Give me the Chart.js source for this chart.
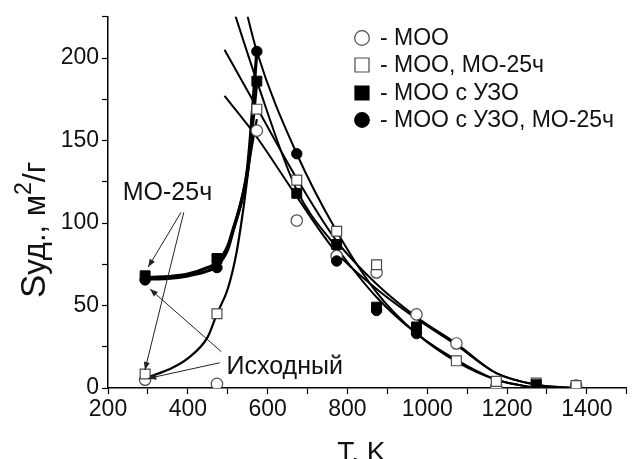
<!DOCTYPE html>
<html><head><meta charset="utf-8">
<script src="https://cdn.jsdelivr.net/npm/chart.js@4.4.1/dist/chart.umd.min.js"></script>
<style>html,body{margin:0;padding:0;background:#fff}#wrap{width:635px;height:459px;position:relative;overflow:hidden}</style>
</head><body><div id="wrap"><canvas id="c" width="635" height="459"></canvas></div>
<script>
// ---- measured points ----
const temps   = [293, 473, 573, 673, 773, 873, 973, 1073, 1173, 1273, 1373];
const sMOO    = [5, 2.5, 156, 101.5, 80, 70, 44.6, 27, 0.8, null, 1.5];
const sMOO25  = [8.5, 45, 169, 126, 95, 74.7, null, 16.5, 4, 3, 1.5];
const sUZO    = [68, 78.5, 186, 118, 87, 49, 37, null, null, 2, null];
const sUZO25  = [65.5, 73, 204, 142, 77, 47, 33, null, null, null, null];
const legendLabels = ['- МОО', '- МОО, МО-25ч', '- МОО с УЗО', '- МОО с УЗО, МО-25ч'];

// ---- fitted curves ----
const riseThinT  = [293, 350, 400, 450, 473, 500, 522, 540, 555, 573];
const riseThinS  = [6, 11, 18, 31, 45, 60, 82, 110, 138, 163];
const riseSqT    = [293, 350, 400, 450, 473, 500, 512, 537, 550, 573];
const riseSqS    = [67, 67.5, 69, 73, 76, 86, 95, 116, 132, 186];
const riseCiT    = [293, 350, 400, 450, 473, 500, 512, 537, 550, 573];
const riseCiS    = [66, 66.5, 68, 71, 74, 84, 94, 116, 134, 204];
const decayAT = [500, 573, 673, 773, 873, 973, 1073, 1173, 1273];
const decayAS = [240, 186, 120, 85, 55, 33, 17, 5, 0];
const decayBT = [530, 573, 673, 773, 873, 973, 1073, 1173, 1273];
const decayBS = [245, 204, 142, 95, 58, 33, 16, 5, 0];
const decayCT = [492, 573, 673, 773, 873, 973, 1073, 1173, 1273, 1373];
const decayCS = [205, 170, 127, 89, 63, 43, 27, 9, 2, 0];
const decayDT = [492, 573, 673, 773, 873, 973, 1073, 1173, 1273, 1373];
const decayDS = [177, 152, 116, 82, 60, 42, 26, 9, 2, 0];

// ---- annotations (data units) ----
const noteLabels = [{text:'МО-25ч', t:237, s:114}, {text:'Исходный', t:497, s:8.5}];
const arrows = [
  [383, 106.5, 300.8, 73.3],
  [390, 106.5, 292.5, 10.9],
  [484, 22, 305, 60],
  [480, 15.3, 300.8, 5.8]
];

const pts = (xs, ys) => xs.map((x, i) => ({x: x, y: ys[i]}));

function markerDs(ys, style, filled, r) {
  return {type:'scatter', data: pts(temps, ys), showLine:false, pointStyle: style,
    pointRadius: r, pointHoverRadius: r, backgroundColor: filled ? '#000' : '#fff',
    borderColor: filled ? '#000' : '#4a4a4a', borderWidth: filled ? 1 : 1.2, order: 0};
}
function curveDs(xs, ys, w) {
  return {type:'line', data: pts(xs, ys), showLine:true, pointRadius:0, borderColor:'#000',
    borderWidth: w, cubicInterpolationMode:'monotone', fill:false, order: 1};
}

const FONT = "'Liberation Sans', Arial, sans-serif";

const deco = {
  id: 'deco',
  afterDatasetsDraw(chart) {
    const ctx = chart.ctx, xs = chart.scales.x, ys = chart.scales.y;
    ctx.save();
    // annotations
    ctx.fillStyle = '#111';
    ctx.font = '25px ' + FONT;
    ctx.textBaseline = 'alphabetic';
    ctx.textAlign = 'left';
    noteLabels.forEach(n => ctx.fillText(n.text, xs.getPixelForValue(n.t), ys.getPixelForValue(n.s)));
    ctx.strokeStyle = '#222'; ctx.lineWidth = 1;
    arrows.forEach(a => {
      const x1 = xs.getPixelForValue(a[0]), y1 = ys.getPixelForValue(a[1]);
      const x2 = xs.getPixelForValue(a[2]), y2 = ys.getPixelForValue(a[3]);
      ctx.beginPath(); ctx.moveTo(x1, y1); ctx.lineTo(x2, y2); ctx.stroke();
      const ang = Math.atan2(y2 - y1, x2 - x1), L = 8, W = 3;
      ctx.beginPath();
      ctx.moveTo(x2, y2);
      ctx.lineTo(x2 - L*Math.cos(ang) + W*Math.sin(ang), y2 - L*Math.sin(ang) - W*Math.cos(ang));
      ctx.lineTo(x2 - L*Math.cos(ang) - W*Math.sin(ang), y2 - L*Math.sin(ang) + W*Math.cos(ang));
      ctx.closePath(); ctx.fillStyle = '#222'; ctx.fill();
    });
    // legend
    const lx = 362, rows = [38, 65, 93, 120];
    const styles = [['circle', false], ['rect', false], ['rect', true], ['circle', true]];
    styles.forEach((st, i) => {
      const y = rows[i];
      ctx.beginPath();
      if (st[0] === 'circle') ctx.arc(lx, y, 7.3, 0, Math.PI*2);
      else ctx.rect(lx - 7, y - 7, 14, 14);
      ctx.fillStyle = st[1] ? '#000' : '#fff'; ctx.fill();
      ctx.strokeStyle = st[1] ? '#000' : '#4a4a4a'; ctx.lineWidth = 1.2; ctx.stroke();
      ctx.fillStyle = '#111'; ctx.font = '23px ' + FONT; ctx.textBaseline = 'middle';
      ctx.fillText(legendLabels[i], 380, y + 1);
    });
    // x title
    ctx.textAlign = 'center'; ctx.textBaseline = 'alphabetic';
    ctx.font = '28px ' + FONT;
    ctx.fillText('T, K', (chart.chartArea.left + chart.chartArea.right)/2 - 6, 461);
    // y title (rotated, rich)
    ctx.translate(45, 298); ctx.rotate(-Math.PI/2);
    ctx.textAlign = 'left';
    let x = 0;
    const parts = [['S', 35, 0], ['уд., м', 31, 0], ['2', 23, -14], ['/г', 32, 0]];
    parts.forEach(p => { ctx.font = p[1] + 'px ' + FONT; ctx.fillText(p[0], x, p[2]); x += ctx.measureText(p[0]).width; });
    ctx.restore();
  }
};

new Chart(document.getElementById('c'), {
  data: {datasets: [
    markerDs(sUZO25, 'circle', true, 5.2),
    markerDs(sUZO, 'rect', true, 7),
    markerDs(sMOO25, 'rect', false, 7),
    markerDs(sMOO, 'circle', false, 5.7),
    curveDs(riseThinT, riseThinS, 2.2),
    curveDs(riseSqT, riseSqS, 3.2),
    curveDs(riseCiT, riseCiS, 3.2),
    curveDs(decayAT, decayAS, 2),
    curveDs(decayBT, decayBS, 2),
    curveDs(decayCT, decayCS, 2),
    curveDs(decayDT, decayDS, 2)
  ]},
  options: {
    responsive: false, animation: false, devicePixelRatio: 1,
    layout: {padding: {top: 15, right: 7, left: 0, bottom: 0}},
    plugins: {legend: {display: false}, tooltip: {enabled: false}},
    scales: {
      x: {type: 'linear', min: 200, max: 1500,
        afterFit: s => { s.height = 71; },
        border: {display: true, color: '#000', width: 1.5},
        grid: {drawOnChartArea: false, drawTicks: true, tickLength: 6, tickColor: '#000', tickWidth: 1.2},
        ticks: {stepSize: 100, autoSkip: false, maxRotation: 0, color: '#111', padding: 2,
          font: {family: FONT, size: 23},
          callback: v => (v % 200 === 0 && v <= 1400) ? String(v) : ''}},
      y: {type: 'linear', min: 0, max: 225,
        afterFit: s => { s.width = 108; },
        border: {display: true, color: '#000', width: 1.5},
        grid: {drawOnChartArea: false, drawTicks: true, tickLength: 6, tickColor: '#000', tickWidth: 1.2},
        ticks: {stepSize: 25, autoSkip: false, color: '#111', padding: 3,
          font: {family: FONT, size: 23},
          callback: v => (v % 50 === 0) ? String(v) : ''}}
    }
  },
  plugins: [deco]
});
</script></body></html>
